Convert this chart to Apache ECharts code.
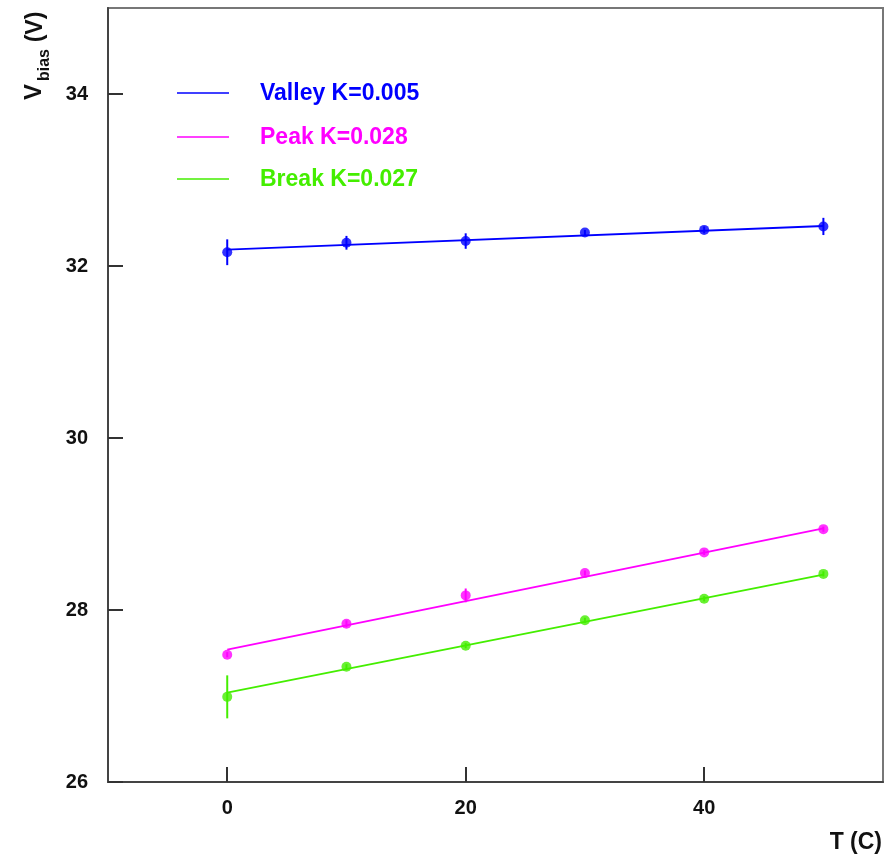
<!DOCTYPE html>
<html>
<head>
<meta charset="utf-8">
<script src="https://cdn.jsdelivr.net/npm/echarts@6/dist/echarts.min.js"></script>
<style>
  html, body { margin: 0; padding: 0; background: #fff; }
  #chart { width: 888px; height: 859px; }
</style>
</head>
<body>
<div id="chart"></div>
<script>
// Temperature scan of SiPM bias voltages
const temps = [0, 10, 20, 30, 40, 50];

const valley    = [32.16, 32.27, 32.29, 32.39, 32.42, 32.46];
const valleyErr = [0.15, 0.08, 0.09, 0.03, 0.04, 0.10];
const peak      = [27.48, 27.84, 28.17, 28.43, 28.67, 28.94];
const peakErr   = [0.03, 0.04, 0.08, 0.03, 0.03, 0.03];
const brk       = [26.99, 27.34, 27.585, 27.88, 28.13, 28.42];
const brkErr    = [0.25, 0.03, 0.03, 0.03, 0.03, 0.03];

// linear fits, evaluated at the ends of the scan
const fitT      = [0, 50];
const valleyFit = [32.19, 32.465];
const peakFit   = [27.54, 28.95];
const brkFit    = [27.04, 28.41];

const legendNames = ['Valley K=0.005', 'Peak K=0.028', 'Break K=0.027'];
const xTicks = [0, 20, 40];
const yTicks = [26, 28, 30, 32, 34];

const BLUE = '#0000ff', MAGENTA = '#ff00ff', GREEN = '#44ee00';
const FONT = '"Liberation Sans", Arial, Helvetica, sans-serif';

function pairs(xs, ys) { return xs.map((x, i) => [x, ys[i]]); }
function errData(xs, ys, es) { return xs.map((x, i) => [x, ys[i], es[i]]); }

function fitSeries(name, ys, color) {
  return {
    name: name, type: 'line', data: pairs(fitT, ys), showSymbol: false, silent: true,
    lineStyle: { color: color, width: 1.8 }, z: 2
  };
}
function pointSeries(ys, color) {
  return {
    type: 'scatter', data: pairs(temps, ys), symbol: 'circle', symbolSize: 10,
    itemStyle: { color: color }, silent: true, z: 4
  };
}
function errSeries(ys, es, color) {
  return {
    type: 'custom', data: errData(temps, ys, es), silent: true, z: 3,
    renderItem: function (params, api) {
      const x = api.value(0), y = api.value(1), e = api.value(2);
      const p1 = api.coord([x, y - e]);
      const p2 = api.coord([x, y + e]);
      return {
        type: 'line',
        shape: { x1: p1[0], y1: p1[1], x2: p2[0], y2: p2[1] },
        style: { stroke: color, lineWidth: 2 }
      };
    }
  };
}

const chart = echarts.init(document.getElementById('chart'), null, { renderer: 'canvas' });

const legendColors = [BLUE, MAGENTA, GREEN];
const legendRowsY = [93, 137, 179];
const legendGraphics = [];
legendNames.forEach((n, i) => {
  legendGraphics.push({
    type: 'line', shape: { x1: 177, y1: legendRowsY[i], x2: 229, y2: legendRowsY[i] },
    style: { stroke: legendColors[i], lineWidth: 1.6 }
  });
  legendGraphics.push({
    type: 'text', x: 260, y: legendRowsY[i] + 1,
    style: { text: n, fill: legendColors[i], font: 'bold 23px ' + FONT,
             textAlign: 'left', textVerticalAlign: 'middle' }
  });
});

chart.setOption({
  animation: false,
  backgroundColor: '#ffffff',
  grid: {
    left: 108, top: 8, right: 5, bottom: 77,
    show: true, borderColor: '#777', borderWidth: 2, backgroundColor: 'transparent'
  },
  xAxis: {
    type: 'value', min: -10, max: 55,
    axisLine: { show: true, onZero: false, lineStyle: { color: '#444', width: 2 } },
    axisTick: { show: true, inside: true, length: 15, customValues: xTicks,
                lineStyle: { color: '#333', width: 2 } },
    axisLabel: { customValues: xTicks, margin: 16, color: '#111',
                 fontFamily: FONT, fontWeight: 'bold', fontSize: 20 },
    splitLine: { show: false }
  },
  yAxis: {
    type: 'value', min: 26, max: 35,
    axisLine: { show: true, onZero: false, lineStyle: { color: '#444', width: 2 } },
    axisTick: { show: true, inside: true, length: 15, customValues: yTicks,
                lineStyle: { color: '#333', width: 2 } },
    axisLabel: { customValues: yTicks, margin: 20, color: '#111',
                 fontFamily: FONT, fontWeight: 'bold', fontSize: 20 },
    splitLine: { show: false }
  },
  graphic: [
    // axis titles
    { type: 'text', x: 882, y: 843,
      style: { text: 'T (C)', fill: '#111', font: 'bold 23px ' + FONT,
               textAlign: 'right', textVerticalAlign: 'middle' } },
    { type: 'text', x: 34, y: 92, rotation: Math.PI / 2,
      style: { text: 'V', fill: '#111', font: 'bold 24px ' + FONT,
               textAlign: 'center', textVerticalAlign: 'middle' } },
    { type: 'text', x: 45, y: 65, rotation: Math.PI / 2,
      style: { text: 'bias', fill: '#111', font: 'bold 16px ' + FONT,
               textAlign: 'center', textVerticalAlign: 'middle' } },
    { type: 'text', x: 36, y: 27, rotation: Math.PI / 2,
      style: { text: '(V)', fill: '#111', font: 'bold 23px ' + FONT,
               textAlign: 'center', textVerticalAlign: 'middle' } }
  ].concat(legendGraphics),
  series: [
    fitSeries(legendNames[0], valleyFit, BLUE),
    fitSeries(legendNames[1], peakFit, MAGENTA),
    fitSeries(legendNames[2], brkFit, GREEN),
    errSeries(valley, valleyErr, BLUE),
    errSeries(peak, peakErr, MAGENTA),
    errSeries(brk, brkErr, GREEN),
    pointSeries(valley, BLUE),
    pointSeries(peak, MAGENTA),
    pointSeries(brk, GREEN)
  ]
});
</script>
</body>
</html>
